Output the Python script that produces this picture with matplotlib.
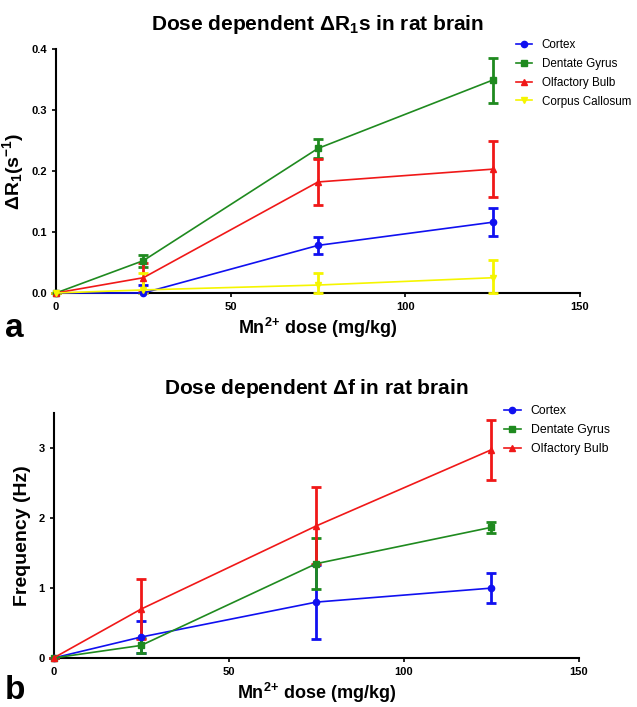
import numpy as np
import matplotlib.pyplot as plt

plt.rcParams['font.family'] = ['Liberation Sans', 'DejaVu Sans']
plt.rcParams['mathtext.fontset'] = 'custom'
plt.rcParams['mathtext.rm'] = 'Liberation Sans:bold'
plt.rcParams['mathtext.bf'] = 'Liberation Sans:bold'
plt.rcParams['mathtext.default'] = 'bf'

# dose (mg/kg)
dose = [0, 25, 75, 125]

# panel a: delta R1 (s^-1), mean and error
r1_cortex = [0.0, 0.0, 0.078, 0.116]
r1_cortex_err = [0.0, 0.013, 0.014, 0.023]
r1_dg = [0.0, 0.053, 0.237, 0.349]
r1_dg_err = [0.0, 0.010, 0.016, 0.037]
r1_ob = [0.0, 0.025, 0.182, 0.203]
r1_ob_err = [0.0, 0.024, 0.037, 0.046]
r1_cc = [0.0, 0.005, 0.013, 0.025]
r1_cc_err = [0.0, 0.028, 0.019, 0.029]

# panel b: delta f (Hz)
f_cortex = [0.0, 0.30, 0.80, 1.00]
f_cortex_err = [0.0, 0.23, 0.53, 0.21]
f_dg = [0.0, 0.18, 1.35, 1.87]
f_dg_err = [0.0, 0.11, 0.36, 0.08]
f_ob = [0.0, 0.70, 1.89, 2.98]
f_ob_err = [0.0, 0.43, 0.55, 0.43]

BLUE = '#1010f0'
GREEN = '#1f8a1f'
RED = '#f01818'
YELLOW = '#f5f500'

fig = plt.figure(figsize=(6.37, 7.07), dpi=100)
ax1 = fig.add_axes([0.0879, 0.5856, 0.8226, 0.3451])
ax2 = fig.add_axes([0.0840, 0.0693, 0.8250, 0.3460])


def draw(ax, series, leg_x, leg_y, leg_size):
    handles, labels = [], []
    for y, e, c, m, lab in series:
        y = np.array(y)
        e = np.array(e)
        lower = np.minimum(e, y)  # bars stop at the axis
        cont = ax.errorbar(dose, y, yerr=[lower, e], color=c, marker=m,
                           markersize=4.5, lw=1.2, elinewidth=2,
                           capsize=3.5, capthick=2,
                           clip_on=False, zorder=3)
        handles.append(cont.lines[0])
        labels.append(lab)
    ax.spines['top'].set_visible(False)
    ax.spines['right'].set_visible(False)
    for s in ['left', 'bottom']:
        ax.spines[s].set_linewidth(1.5)
    ax.set_xlim(0, 150)
    ax.set_xticks([0, 50, 100, 150])
    ax.tick_params(width=1.2, length=3, labelsize=8)
    for t in ax.get_xticklabels() + ax.get_yticklabels():
        t.set_fontweight('bold')
    ax.set_xlabel('Mn$^{2{+}}$ dose (mg/kg)', fontsize=13, fontweight='bold',
                  labelpad=3)
    ax.legend(handles, labels, loc='upper left',
              bbox_to_anchor=(leg_x, leg_y), frameon=False,
              fontsize=leg_size, handlelength=1.4, handletextpad=0.8,
              labelspacing=0.58, borderpad=0, borderaxespad=0, numpoints=1)


draw(ax1, [
    (r1_cortex, r1_cortex_err, BLUE, 'o', 'Cortex'),
    (r1_dg, r1_dg_err, GREEN, 's', 'Dentate Gyrus'),
    (r1_ob, r1_ob_err, RED, '^', 'Olfactory Bulb'),
    (r1_cc, r1_cc_err, YELLOW, 'v', 'Corpus Callosum'),
], 0.878, 1.04, 8.4)
ax1.set_ylim(0, 0.4)
ax1.set_yticks([0.0, 0.1, 0.2, 0.3, 0.4])
ax1.set_yticklabels(['0.0', '0.1', '0.2', '0.3', '0.4'], fontweight='bold')
ax1.set_ylabel(r'$\Delta$R$_1$(s$^{-1}$)', fontsize=14, fontweight='bold',
               labelpad=4)
ax1.set_title(r'Dose dependent $\Delta$R$_1$s in rat brain', fontsize=15,
              fontweight='bold', pad=14)

draw(ax2, [
    (f_cortex, f_cortex_err, BLUE, 'o', 'Cortex'),
    (f_dg, f_dg_err, GREEN, 's', 'Dentate Gyrus'),
    (f_ob, f_ob_err, RED, '^', 'Olfactory Bulb'),
], 0.857, 1.034, 8.8)
ax2.set_ylim(0, 3.5)
ax2.set_yticks([0, 1, 2, 3])
ax2.set_yticklabels(['0', '1', '2', '3'], fontweight='bold')
ax2.set_ylabel('Frequency (Hz)', fontsize=14, fontweight='bold',
               labelpad=5)
ax2.set_title(r'Dose dependent $\Delta$f in rat brain', fontsize=15,
              fontweight='bold', pad=14)

fig.text(0.008, 1 - 337 / 707, 'a', fontsize=24, fontweight='bold',
         va='baseline')
fig.text(0.008, 1 - 699 / 707, 'b', fontsize=24, fontweight='bold',
         va='baseline')

fig.savefig('out.png', dpi=100)
